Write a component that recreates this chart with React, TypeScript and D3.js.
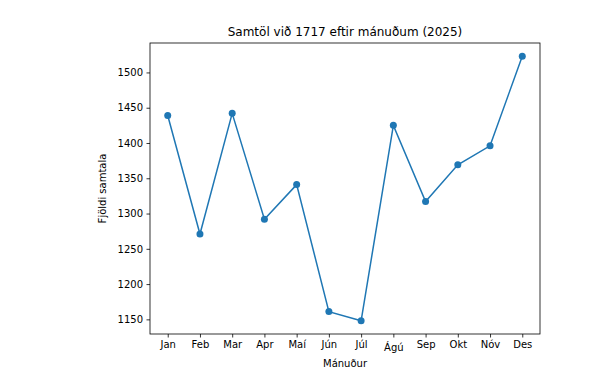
import React, { useRef, useEffect } from 'react';
import * as d3 from 'd3';

// months and call counts
const months = ["Jan", "Feb", "Mar", "Apr", "Maí", "Jún", "Júl", "Ágú", "Sep", "Okt", "Nóv", "Des"];
const calls = [1439, 1271, 1442, 1292, 1341, 1161, 1148, 1425, 1317, 1369, 1396, 1523];
const yTicks = [1150, 1200, 1250, 1300, 1350, 1400, 1450, 1500];

const W = 609;
const H = 384;
const margin = { top: 43, right: 69, bottom: 50, left: 150 };
const blue = "#1f77b4";
const font = "DejaVu Sans, sans-serif";

const App = () => {
    const ref = useRef<SVGSVGElement | null>(null);

    useEffect(() => {
        const svg = d3.select(ref.current);
        if (!ref.current) return;
        svg.selectAll("*").remove();

        const x = d3.scalePoint()
            .domain(months)
            .range([margin.left, W - margin.right])
            .padding(0.55);

        // matplotlib-style 5% margins
        const lo = d3.min(calls), hi = d3.max(calls);
        const pad = (hi - lo) * 0.05;
        const y = d3.scaleLinear()
            .domain([lo - pad, hi + pad])
            .range([H - margin.bottom, margin.top]);

        svg.append("rect")
            .attr("width", W).attr("height", H).attr("fill", "white");

        // x axis
        const xAxis = svg.append("g")
            .attr("transform", `translate(0,${H - margin.bottom})`)
            .call(d3.axisBottom(x).tickSize(3.5).tickPadding(3.5));
        xAxis.select(".domain").remove();
        xAxis.selectAll("text")
            .style("font-family", font).style("font-size", "10px").attr("fill", "#000")
            .attr("dy", (d: string) => /[ÁÉÍÓÚ]/.test(d) ? "0.98em" : "0.71em");
        xAxis.selectAll("line").attr("stroke", "#000").attr("stroke-width", 0.8);

        // y axis
        const yAxis = svg.append("g")
            .attr("transform", `translate(${margin.left},0)`)
            .call(d3.axisLeft(y).tickValues(yTicks).tickFormat(d3.format("d")).tickSize(3.5).tickPadding(3.5));
        yAxis.select(".domain").remove();
        yAxis.selectAll("text")
            .style("font-family", font).style("font-size", "10px").attr("fill", "#000");
        yAxis.selectAll("line").attr("stroke", "#000").attr("stroke-width", 0.8);

        // frame
        svg.append("rect")
            .attr("x", margin.left).attr("y", margin.top)
            .attr("width", W - margin.left - margin.right)
            .attr("height", H - margin.top - margin.bottom)
            .attr("fill", "none").attr("stroke", "#000").attr("stroke-width", 0.8);

        const line = d3.line<number>()
            .x((d, i) => x(months[i]))
            .y(d => y(d));

        svg.append("path")
            .datum(calls)
            .attr("d", line)
            .attr("fill", "none")
            .attr("stroke", blue)
            .attr("stroke-width", 1.5);

        svg.selectAll(".dot")
            .data(calls)
            .enter().append("circle")
            .attr("cx", (d, i) => x(months[i]))
            .attr("cy", d => y(d))
            .attr("r", 3.5)
            .attr("fill", blue);

        // title and labels
        svg.append("text")
            .attr("x", (margin.left + W - margin.right) / 2)
            .attr("y", 36)
            .attr("text-anchor", "middle")
            .style("font-family", font).style("font-size", "12px")
            .text("Samtöl við 1717 eftir mánuðum (2025)");

        svg.append("text")
            .attr("x", (margin.left + W - margin.right) / 2)
            .attr("y", 367)
            .attr("text-anchor", "middle")
            .style("font-family", font).style("font-size", "10px")
            .text("Mánuður");

        svg.append("text")
            .attr("transform", `translate(106,${(margin.top + H - margin.bottom) / 2}) rotate(-90)`)
            .attr("text-anchor", "middle")
            .style("font-family", font).style("font-size", "10px")
            .text("Fjöldi samtala");
    }, []);

    return <svg ref={ref} width={W} height={H} style={{ position: "absolute", left: 0, top: 0 }} />;
};

export default App;
